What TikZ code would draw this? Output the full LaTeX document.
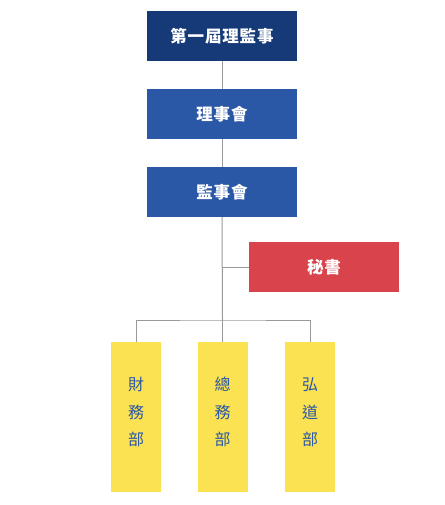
\documentclass[tikz,border=0pt]{standalone}
\usepackage{fontspec}
\newfontfamily\cjk{Noto Sans CJK TC}
\newfontfamily\cjkwide[LetterSpace=5]{Noto Sans CJK TC}
\definecolor{navy}{HTML}{163A78}
\definecolor{midblue}{HTML}{2B58A6}
\definecolor{redbox}{HTML}{D9434B}
\definecolor{yellowbox}{HTML}{FBE252}
\definecolor{linegray}{HTML}{9A9A9A}
\newcommand{\vtext}[3]{\raisebox{0pt}[\height][\dimexpr\depth+9pt\relax]{\begin{tabular}{@{}c@{}}#1\\#2\\#3\end{tabular}}}
\tikzset{
  x=1pt, y=-1pt,
  hbox/.style={minimum width=150pt, minimum height=50pt, inner sep=0pt, text=white, font=\cjkwide\bfseries\fontsize{16.5}{18}\selectfont},
  vbox/.style={fill=yellowbox, minimum width=50pt, minimum height=150pt, inner sep=0pt, text=midblue, font=\cjk\fontsize{16}{27.5}\selectfont},
  conn/.style={draw=linegray, line width=1pt},
}
\begin{document}
\begin{tikzpicture}
\useasboundingbox (0,0) rectangle (444,505);
\node[hbox, fill=navy] (top) at (222,36) {第一屆理監事};
\node[hbox, fill=midblue] (board) at (222,114) {理事會};
\node[hbox, fill=midblue] (sup) at (222,192) {監事會};
\node[hbox, fill=redbox] (sec) at (324,267) {秘書};
\node[vbox] (fin) at (136,417) {\vtext{財}{務}{部}};
\node[vbox] (gen) at (222.5,417) {\vtext{總}{務}{部}};
\node[vbox] (dao) at (310,417) {\vtext{弘}{道}{部}};
\coordinate (bus) at (222.5,320);
\coordinate (secj) at (222,267);
\draw[conn] (top) -- (board);
\draw[conn] (board) -- (sup);
\draw[conn] (sup.south) -- (bus);
\draw[conn] (secj) -- (sec.west);
\draw[conn] (fin.north) |- (bus) -| (dao.north);
\draw[conn] (bus) -- (gen.north);
\end{tikzpicture}
\end{document}
